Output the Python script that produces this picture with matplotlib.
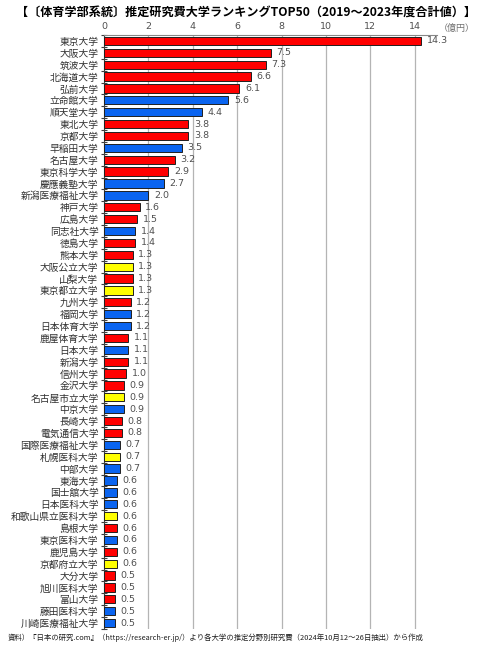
import matplotlib
matplotlib.use("Agg")
import matplotlib.pyplot as plt
import numpy as np

plt.rcParams['font.family'] = ['Noto Sans CJK JP', 'DejaVu Sans']

universities = ["東京大学", "大阪大学", "筑波大学", "北海道大学", "弘前大学", "立命館大学", "順天堂大学",
                "東北大学", "京都大学", "早稲田大学", "名古屋大学", "東京科学大学", "慶應義塾大学",
                "新潟医療福祉大学", "神戸大学", "広島大学", "同志社大学", "徳島大学", "熊本大学",
                "大阪公立大学", "山梨大学", "東京都立大学", "九州大学", "福岡大学", "日本体育大学",
                "鹿屋体育大学", "日本大学", "新潟大学", "信州大学", "金沢大学", "名古屋市立大学",
                "中京大学", "長崎大学", "電気通信大学", "国際医療福祉大学", "札幌医科大学", "中部大学",
                "東海大学", "国士舘大学", "日本医科大学", "和歌山県立医科大学", "島根大学", "東京医科大学",
                "鹿児島大学", "京都府立大学", "大分大学", "旭川医科大学", "富山大学", "藤田医科大学",
                "川崎医療福祉大学"]
values = [14.3, 7.5, 7.3, 6.6, 6.1, 5.6, 4.4, 3.8, 3.8, 3.5, 3.2, 2.9, 2.7, 2.0, 1.6, 1.5, 1.4, 1.4,
          1.3, 1.3, 1.3, 1.3, 1.2, 1.2, 1.2, 1.1, 1.1, 1.1, 1.0, 0.9, 0.9, 0.9, 0.8, 0.8, 0.7, 0.7,
          0.7, 0.6, 0.6, 0.6, 0.6, 0.6, 0.6, 0.6, 0.6, 0.5, 0.5, 0.5, 0.5, 0.5]
# N = national, P = private, U = public
types = ["N", "N", "N", "N", "N", "P", "P", "N", "N", "P", "N", "N", "P", "P", "N", "N", "P", "N",
         "N", "U", "N", "U", "N", "P", "P", "N", "P", "N", "N", "N", "U", "P", "N", "N", "P", "U",
         "P", "P", "P", "P", "U", "N", "P", "N", "U", "N", "N", "N", "P", "P"]
x_ticks = [0, 2, 4, 6, 8, 10, 12, 14]

color_map = {"N": "#FF0000", "P": "#0A64F0", "U": "#FFFF00"}
colors = [color_map[t] for t in types]

fig = plt.figure(figsize=(4.80, 6.47), dpi=100)
ax = fig.add_axes([104/480, 1 - 629/647, (437 - 104)/480, (629 - 35)/647])

y = np.arange(len(universities))
ax.barh(y, values, height=0.7, color=colors, edgecolor="#202020", linewidth=0.7, zorder=3)

for yi, v in zip(y, values):
    ax.text(v + 0.25, yi, f"{v:.1f}", va="center", ha="left", fontsize=6.8, color="#505050",
            family=['DejaVu Sans'])

ax.set_xlim(0, 15)
ax.set_ylim(len(universities) - 0.5, -0.5)
ax.xaxis.tick_top()
ax.set_xticks(x_ticks)
ax.set_xticklabels([str(t) for t in x_ticks], fontsize=6.8, color="#505050", family=['DejaVu Sans'])
ax.tick_params(axis='x', length=0, pad=3)
ax.grid(axis='x', color="#B4B4B4", linewidth=0.9, zorder=0)

ax.set_yticks(y)
ax.set_yticklabels(universities, fontsize=7, color="#303030")
ax.tick_params(axis='y', which='major', length=0, pad=4)
ax.set_yticks(np.arange(-0.5, len(universities), 1.0), minor=True)
ax.tick_params(axis='y', which='minor', length=4, direction='inout', color="#404040", width=0.8)

for s in ["right", "bottom"]:
    ax.spines[s].set_visible(False)
ax.spines["top"].set_color("#888888")
ax.spines["left"].set_color("#404040")
ax.spines["left"].set_linewidth(0.8)

fig.text(246/480, 1 - 12/647, "【〔体育学部系統〕推定研究費大学ランキングTOP50（2019～2023年度合計値）】",
         ha="center", va="center", fontsize=8.7, fontweight="bold", color="#000000")
fig.text(475/480, 1 - 28/647, "（億円）", ha="right", va="center", fontsize=6.5, color="#707070")
fig.text(8/480, 1 - 638/647,
         "資料）『日本の研究.com』（https://research-er.jp/）より各大学の推定分野別研究費（2024年10月12～26日抽出）から作成",
         ha="left", va="center", fontsize=5.35, color="#202020")

fig.savefig("out.png", dpi=100)
